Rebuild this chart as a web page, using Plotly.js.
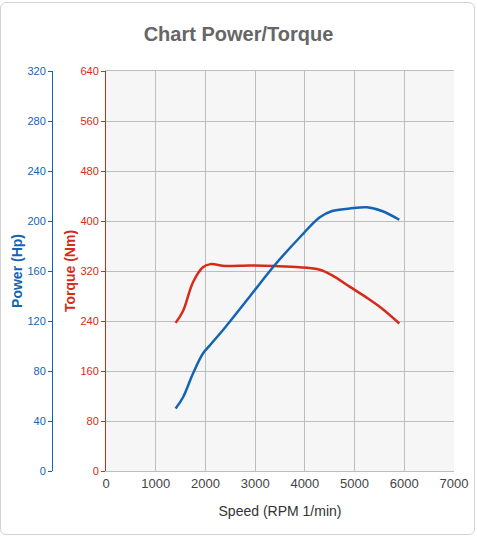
<!DOCTYPE html>
<html>
<head>
<meta charset="utf-8">
<script src="https://cdn.plot.ly/plotly-3.0.1.min.js"></script>
<style>
html,body{margin:0;padding:0;background:#fff;}
#frame{position:absolute;left:0;top:2px;width:475px;height:533px;border:1px solid #d2d2d2;border-radius:6px;box-sizing:border-box;}
#chart{position:absolute;left:0;top:0;width:477px;height:536px;}
</style>
</head>
<body>
<div id="frame"></div>
<div id="chart"></div>
<script>
const rpm = [1400,1550,1750,1950,2100,2400,2900,3400,3900,4300,4550,4900,5250,5550,5900];
const powerHp = [50,59,78,94,101,115,140,165,187,203,208,210,211,208,201];
const torqueNm = [237,256,302,326,331,328,329,328,326,322,313,295,277,260,236];

const blue = '#1464b4';
const red = '#d62a1a';
const grid = '#bdbdbd';

const traces = [
  {x: rpm, y: torqueNm, type:'scatter', mode:'lines', name:'Torque (Nm)',
   line:{color:red, width:2.5, shape:'spline', smoothing:1}, yaxis:'y'},
  {x: rpm, y: powerHp, type:'scatter', mode:'lines', name:'Power (Hp)',
   line:{color:blue, width:2.5, shape:'spline', smoothing:1}, yaxis:'y2'}
];

const L = 40, R = 23, W = 477;
const pw = W - L - R;
const layout = {
  width: 477, height: 536,
  paper_bgcolor:'rgba(0,0,0,0)',
  plot_bgcolor:'#f6f6f6',
  showlegend:false,
  font:{family:'"Liberation Sans", Arial, sans-serif', size:12, color:'#444'},
  margin:{l:L, r:R, t:71, b:65},
  title:{text:'<b>Chart Power/Torque</b>', x:0.5, xanchor:'center', y:1-34/536, yanchor:'middle',
         font:{size:20, color:'#666', family:'"Liberation Sans", Arial, sans-serif'}},
  xaxis:{domain:[(106-L)/pw, 1], range:[0,7000], dtick:1000, tick0:0,
         showgrid:true, gridcolor:grid, gridwidth:1, zeroline:false,
         showline:true, linecolor:grid, mirror:true, ticks:'',
         tickfont:{size:13, color:'#444'},
         title:{text:'Speed (RPM 1/min)', font:{size:14, color:'#333'}, standoff:16}},
  yaxis:{range:[0,640], dtick:80, tick0:0, showgrid:true, gridcolor:grid, zeroline:false,
         showline:true, linecolor:red, linewidth:1, ticks:'outside', ticklen:4, tickcolor:red,
         tickfont:{size:11, color:red},
         title:{text:'<b>Torque (Nm)</b>', font:{size:14, color:red}, standoff:1}},
  yaxis2:{overlaying:'y', anchor:'free', side:'left', position:(52-L)/pw,
         range:[0,320], dtick:40, tick0:0, showgrid:false, zeroline:false,
         showline:true, linecolor:blue, linewidth:1, ticks:'outside', ticklen:4, tickcolor:blue,
         tickfont:{size:11, color:blue},
         title:{text:'<b>Power (Hp)</b>', font:{size:14, color:blue}, standoff:0}}
};

Plotly.newPlot('chart', traces, layout, {displayModeBar:false, staticPlot:true});
</script>
</body>
</html>
